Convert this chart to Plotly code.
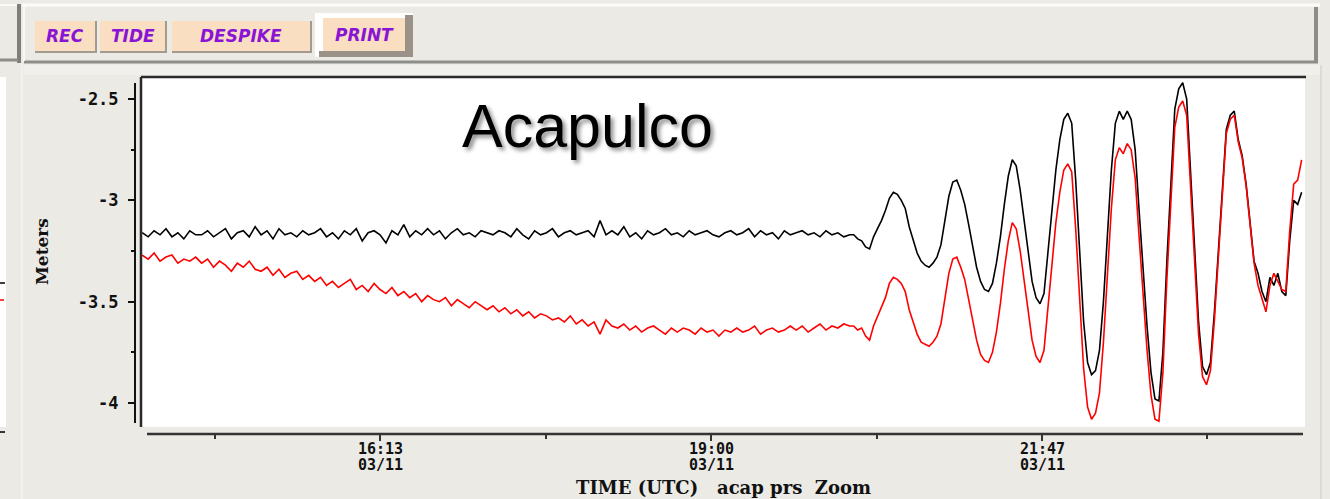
import plotly.graph_objects as go

# ---------------- data ----------------
# sample times in minutes after 00:00 UTC on 03/11
quiet_start, quiet_step = 853, 3
wave_start, wave_step = 1212, 2

black_quiet = [
    -3.16, -3.18, -3.15, -3.17, -3.14, -3.18, -3.16, -3.19, -3.15, -3.17,
    -3.17, -3.15, -3.18, -3.16, -3.14, -3.19, -3.16, -3.15, -3.18, -3.13,
    -3.17, -3.15, -3.19, -3.14, -3.17, -3.16, -3.18, -3.15, -3.17, -3.16,
    -3.14, -3.18, -3.16, -3.19, -3.15, -3.17, -3.14, -3.20, -3.16, -3.15,
    -3.17, -3.21, -3.15, -3.17, -3.12, -3.18, -3.15, -3.17, -3.14, -3.17,
    -3.15, -3.19, -3.16, -3.14, -3.17, -3.16, -3.18, -3.15, -3.16, -3.17,
    -3.15, -3.16, -3.18, -3.14, -3.17, -3.19, -3.15, -3.17, -3.16, -3.14,
    -3.18, -3.16, -3.15, -3.17, -3.16, -3.15, -3.18, -3.10, -3.17, -3.15,
    -3.17, -3.13, -3.18, -3.16, -3.19, -3.15, -3.17, -3.16, -3.14, -3.17,
    -3.16, -3.18, -3.15, -3.17, -3.16, -3.15, -3.17, -3.18, -3.16, -3.15,
    -3.17, -3.16, -3.14, -3.18, -3.15, -3.17, -3.16, -3.19, -3.15, -3.17,
    -3.16, -3.15, -3.17, -3.16, -3.18, -3.15, -3.17, -3.16, -3.18, -3.17,
]
red_quiet = [
    -3.27, -3.29, -3.26, -3.30, -3.28, -3.27, -3.31, -3.29, -3.30, -3.28,
    -3.31, -3.29, -3.33, -3.30, -3.32, -3.35, -3.31, -3.33, -3.30, -3.34,
    -3.35, -3.33, -3.37, -3.34, -3.38, -3.36, -3.35, -3.39, -3.37, -3.40,
    -3.38, -3.42, -3.40, -3.43, -3.41, -3.39, -3.44, -3.42, -3.45, -3.41,
    -3.44, -3.46, -3.43, -3.47, -3.45, -3.48, -3.46, -3.50, -3.47, -3.49,
    -3.50, -3.48, -3.52, -3.49, -3.51, -3.53, -3.50, -3.52, -3.54, -3.52,
    -3.55, -3.53, -3.56, -3.54, -3.57, -3.55, -3.58, -3.56, -3.57, -3.59,
    -3.58, -3.60, -3.57, -3.61, -3.59, -3.62, -3.60, -3.66, -3.59, -3.62,
    -3.63, -3.61, -3.64, -3.62, -3.65, -3.63, -3.62, -3.64, -3.66, -3.63,
    -3.65, -3.63, -3.64, -3.66, -3.63, -3.65, -3.64, -3.67, -3.64, -3.65,
    -3.63, -3.65, -3.64, -3.62, -3.66, -3.64, -3.63, -3.65, -3.64, -3.62,
    -3.64, -3.62, -3.65, -3.63, -3.61, -3.64, -3.62, -3.63, -3.61, -3.62,
]
black_wave = [
    -3.17, -3.19, -3.20, -3.23, -3.24, -3.18, -3.14, -3.10, -3.05, -2.99,
    -2.96, -2.97, -3.00, -3.04, -3.13, -3.20, -3.26, -3.30, -3.32, -3.33,
    -3.31, -3.28, -3.22, -3.10, -2.98, -2.91, -2.90, -2.95, -3.02, -3.12,
    -3.22, -3.33, -3.40, -3.44, -3.45, -3.41, -3.31, -3.18, -3.02, -2.88,
    -2.80, -2.83, -2.95, -3.10, -3.26, -3.40, -3.48, -3.51, -3.46, -3.25,
    -3.05, -2.85, -2.70, -2.60, -2.57, -2.62, -2.90, -3.25, -3.60, -3.80,
    -3.86, -3.84, -3.74, -3.50, -3.15, -2.85, -2.62, -2.56, -2.60, -2.56,
    -2.60, -2.75, -3.05, -3.35, -3.62, -3.85, -3.98, -3.99, -3.75, -3.30,
    -2.90, -2.55, -2.45, -2.42, -2.50, -2.85, -3.25, -3.60, -3.82, -3.86,
    -3.80, -3.55, -3.25, -2.95, -2.65, -2.58, -2.56, -2.70, -2.78, -2.92,
    -3.10, -3.30, -3.36, -3.45, -3.50, -3.38, -3.42, -3.36, -3.45, -3.47,
    -3.20, -3.00, -3.02, -2.96,
]
red_wave = [
    -3.62, -3.64, -3.63, -3.67, -3.69, -3.62, -3.57, -3.53, -3.48, -3.41,
    -3.38, -3.39, -3.41, -3.45, -3.54, -3.60, -3.66, -3.70, -3.71, -3.72,
    -3.70, -3.67, -3.61, -3.48, -3.36, -3.29, -3.28, -3.33, -3.39, -3.49,
    -3.59, -3.69, -3.76, -3.79, -3.80, -3.75, -3.65, -3.51, -3.34, -3.20,
    -3.11, -3.14, -3.25, -3.40, -3.56, -3.69, -3.77, -3.80, -3.74, -3.52,
    -3.32, -3.11, -2.96, -2.85, -2.82, -2.86, -3.14, -3.48, -3.83, -4.02,
    -4.08, -4.05, -3.95, -3.70, -3.35, -3.04, -2.80, -2.74, -2.77, -2.72,
    -2.75, -2.89, -3.18, -3.48, -3.74, -3.96, -4.08, -4.09, -3.85, -3.39,
    -2.99, -2.64, -2.54, -2.51, -2.58, -2.92, -3.32, -3.66, -3.87, -3.91,
    -3.84, -3.59, -3.28, -2.98, -2.67, -2.60, -2.58, -2.71, -2.79, -2.93,
    -3.12, -3.31, -3.42, -3.48, -3.55, -3.42, -3.36, -3.40, -3.44, -3.45,
    -3.15, -2.92, -2.90, -2.80,
]

x_tick_vals = [973, 1140, 1307]
x_tick_times = ["16:13", "19:00", "21:47"]
x_tick_dates = ["03/11", "03/11", "03/11"]
x_minor_vals = [889.5, 1056.5, 1223.5, 1390.5]
y_tick_vals = [-2.5, -3.0, -3.5, -4.0]
y_tick_text = ["-2.5", "-3", "-3.5", "-4"]
y_minor_vals = [-2.75, -3.25, -3.75]
buttons = ["REC", "TIDE", "DESPIKE", "PRINT"]

quiet_t = [quiet_start + quiet_step * i for i in range(len(black_quiet))]
wave_t = [wave_start + wave_step * i for i in range(len(black_wave))]
times = quiet_t + wave_t

# ---------------- figure ----------------
W, H = 1330, 499
def px(x):
    return x / W
def py(y):
    return 1 - y / H

BG = "#EBEAE5"
fig = go.Figure()
fig.add_trace(go.Scatter(x=times, y=black_quiet + black_wave, mode="lines",
                         line=dict(color="#000000", width=1.6), hoverinfo="skip"))
fig.add_trace(go.Scatter(x=quiet_t + wave_t, y=red_quiet + red_wave, mode="lines",
                         line=dict(color="#FF0000", width=1.6), hoverinfo="skip"))

shapes = []
def rect(x0, y0, x1, y1, fill, layer="below"):
    shapes.append(dict(type="rect", xref="paper", yref="paper", x0=px(x0), x1=px(x1),
                       y0=py(y1), y1=py(y0), fillcolor=fill, line=dict(width=0), layer=layer))
def line(x0, y0, x1, y1, color, w, layer="below"):
    shapes.append(dict(type="line", xref="paper", yref="paper", x0=px(x0), x1=px(x1),
                       y0=py(y0), y1=py(y1), line=dict(color=color, width=w), layer=layer))

# toolbar
line(22, 5, 1320, 5, "#FBFBF9", 3)
line(24, 62, 1318, 62, "#8E8D89", 3)
line(1316, 7, 1316, 62, "#8E8D89", 4)
line(19, 4, 19, 63, "#7F7E7A", 4)
line(24, 6, 24, 61, "#F8F8F5", 2)
line(0, 60, 18, 60, "#8E8D89", 3)
line(0, 5, 17, 5, "#FBFBF9", 2)
# lighter band under toolbar
rect(24, 65, 1320, 75, "#F1F0EC")
line(22, 65, 22, 499, "#F3F2EE", 2)
line(1321, 65, 1321, 499, "#DCDBD6", 2)

# buttons: (x0, x1, y0, y1)
btn_boxes = [(35, 95, 21, 51), (100, 165, 21, 51), (172, 310, 21, 51), (323, 405, 18, 51)]
for i, (x0, x1, y0, y1) in enumerate(btn_boxes):
    if buttons[i] == "PRINT":
        rect(315, 13, 413, 57, "#FFFFFF")
        rect(405, 15, 413, 57, "#9A9188")
        rect(319, 51, 413, 57, "#9A9188")
    else:
        rect(x0, y0, x1 + 2, y1 + 2, "#A39A90")
    rect(x0, y0, x1, y1, "#F9DEC2")

# neighbouring panel edge at far left
rect(0, 77, 6, 427, "#FFFFFF")
line(0, 283, 5, 283, "#000000", 1.5)
line(0, 300, 4, 300, "#FF0000", 1.5)
line(0, 432, 5, 432, "#333333", 2)

# plot frame
line(141, 77, 1306, 77, "#2A2A2A", 2.5, "above")
line(141, 77, 141, 427, "#2A2A2A", 2.5, "above")
line(135, 83, 135, 423, "#111111", 2)
line(147, 434, 1303, 434, "#333333", 2.5)

fig.update_layout(shapes=shapes)

tick_font = dict(family="DejaVu Sans Mono", size=17, color="#111111", weight="bold")
fig.update_layout(
    width=W, height=H, margin=dict(l=0, r=0, t=0, b=0),
    paper_bgcolor=BG, plot_bgcolor="#FFFFFF", showlegend=False,
    xaxis=dict(domain=[px(142), px(1305)], range=[852.9, 1439.7],
               anchor="free", position=py(434), showline=False, showgrid=False,
               zeroline=False, ticks="outside", ticklen=6, tickwidth=2, tickcolor="#333333",
               tickmode="array", tickvals=x_tick_vals, showticklabels=False,
               minor=dict(tickmode="array", tickvals=x_minor_vals, ticks="outside",
                          ticklen=4, tickwidth=2, tickcolor="#333333")),
    yaxis=dict(domain=[py(427), py(77)], range=[-4.1184, -2.3914],
               anchor="free", position=px(135), showline=False, showgrid=False,
               zeroline=False, ticks="outside", ticklen=7, tickwidth=2, tickcolor="#111111",
               tickmode="array", tickvals=y_tick_vals, ticktext=y_tick_text,
               tickfont=tick_font, ticklabelstandoff=6,
               minor=dict(tickmode="array", tickvals=y_minor_vals, ticks="outside",
                          ticklen=4, tickwidth=2, tickcolor="#111111")),
)

ann = []
xfont = dict(family="DejaVu Sans Mono", size=15, color="#111111", weight="bold")
for v, t, d in zip(x_tick_vals, x_tick_times, x_tick_dates):
    ann.append(dict(text=t, x=v, y=py(449), xref="x", yref="paper",
                    xanchor="center", yanchor="middle", showarrow=False, font=xfont))
    ann.append(dict(text=d, x=v, y=py(465), xref="x", yref="paper",
                    xanchor="center", yanchor="middle", showarrow=False, font=xfont))
ann.append(dict(text="Acapulco", x=px(587), y=py(126), xref="paper", yref="paper",
                xanchor="center", yanchor="middle", showarrow=False,
                font=dict(family="Liberation Sans, Arial", size=61, color="#000000",
                          shadow="3px 3px 4px rgba(0,0,0,0.45)")))
ann.append(dict(text="Meters", x=px(42), y=py(252), xref="paper", yref="paper",
                xanchor="center", yanchor="middle", showarrow=False, textangle=-90,
                font=dict(family="DejaVu Serif", size=17, color="#111111", weight="bold")))
ann.append(dict(text="TIME\u00a0(UTC)\u00a0\u00a0\u00a0acap\u00a0prs\u00a0\u00a0Zoom",
                x=px(724), y=py(487), xref="paper", yref="paper",
                xanchor="center", yanchor="middle", showarrow=False,
                font=dict(family="DejaVu Serif", size=18, color="#111111", weight="bold")))
for i, (x0, x1, y0, y1) in enumerate(btn_boxes):
    ann.append(dict(text="<b><i>" + buttons[i] + "</i></b>", x=px((x0 + x1) / 2),
                    y=py((y0 + y1) / 2), xref="paper", yref="paper",
                    xanchor="center", yanchor="middle", showarrow=False,
                    font=dict(family="DejaVu Sans", size=17, color="#8A14D4")))
fig.update_layout(annotations=ann)

fig.write_html("out.html")
